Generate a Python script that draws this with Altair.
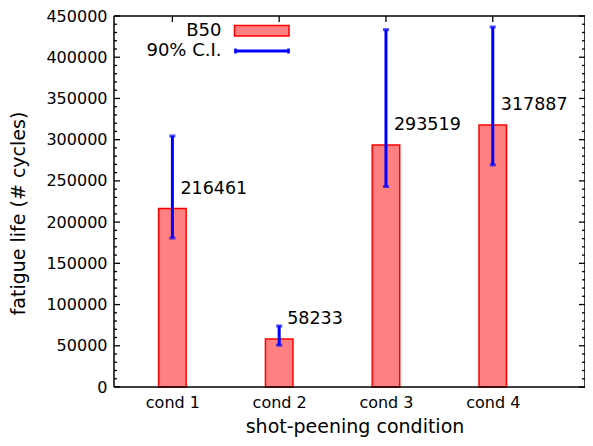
import altair as alt
import pandas as pd

# ---- data ----
conds = ["cond 1", "cond 2", "cond 3", "cond 4"]
cond_pos = [1, 2, 3, 4]
b50 = [216461, 58233, 293519, 317887]
ci_low = [180700, 50800, 243100, 269400]
ci_high = [304500, 74000, 433500, 436700]
y_ticks = list(range(0, 450001, 50000))
y_minor = [v for v in range(0, 450001, 10000) if v % 50000 != 0]
legend_labels = ["B50", "90% C.I."]

W, H = 471, 371
FONT = "DejaVu Sans"
RED_FILL = "#ff8080"
RED = "#ff0000"
BLUE = "#0000ff"

df = pd.DataFrame({"cond": conds, "x": cond_pos, "b50": b50, "lo": ci_low, "hi": ci_high})
df["label"] = df["b50"].astype(str)
major_df = pd.DataFrame({"v": y_ticks})
minor_df = pd.DataFrame({"v": y_minor})
xt_df = pd.DataFrame({"x": cond_pos, "cond": conds})

xscale = alt.Scale(domain=[0.5, 4.817], nice=False, zero=False)
yscale = alt.Scale(domain=[0, 450000], nice=False, zero=True)

base = alt.Chart(df)

bars = base.mark_bar(fill=RED_FILL, stroke=RED, strokeWidth=1.5, size=27.5).encode(
    x=alt.X("x:Q", scale=xscale, title="shot-peening condition",
            axis=alt.Axis(values=cond_pos, labelExpr="'cond ' + datum.value",
                          ticks=False, domain=False, grid=False,
                          labelFont=FONT, labelFontSize=16, labelPadding=7,
                          titleFont=FONT, titleFontSize=19, titleFontWeight="normal",
                          titleX=240.5, titleY=45, titleAlign="center",
                          titleBaseline="alphabetic")),
    y=alt.Y("b50:Q", scale=yscale, title="fatigue life (# cycles)",
            axis=alt.Axis(values=y_ticks, format="d",
                          ticks=False, domain=False, grid=False,
                          labelFont=FONT, labelFontSize=16, labelPadding=7,
                          titleFont=FONT, titleFontSize=19, titleFontWeight="normal",
                          titleX=-95.5, titleY=197, titleBaseline="middle")),
)

err = base.mark_rule(color=BLUE, strokeWidth=3).encode(
    x=alt.X("x:Q", scale=xscale),
    y=alt.Y("lo:Q", scale=yscale),
    y2="hi:Q",
)
cap_lo = base.mark_tick(color=BLUE, orient="horizontal", size=6, thickness=3).encode(
    x=alt.X("x:Q", scale=xscale),
    y=alt.Y("lo:Q", scale=yscale),
)
cap_hi = base.mark_tick(color=BLUE, orient="horizontal", size=6, thickness=3).encode(
    x=alt.X("x:Q", scale=xscale),
    y=alt.Y("hi:Q", scale=yscale),
)
labels = base.mark_text(align="left", baseline="middle", dx=8, dy=-20,
                        font=FONT, fontSize=17.5, color="black").encode(
    x=alt.X("x:Q", scale=xscale),
    y=alt.Y("b50:Q", scale=yscale),
    text="label:N",
)

# inward ticks (gnuplot style, mirrored)
def ytick(data, x0, x1):
    return alt.Chart(data).mark_rule(color="black", strokeWidth=1.3).encode(
        y=alt.Y("v:Q", scale=yscale),
        x=alt.value(x0), x2=alt.value(x1),
    )

tick_layers = [
    ytick(major_df, 0, 6), ytick(major_df, W - 6, W),
    ytick(minor_df, 0, 3), ytick(minor_df, W - 3, W),
    alt.Chart(xt_df).mark_rule(color="black", strokeWidth=1.3).encode(
        x=alt.X("x:Q", scale=xscale),
        y=alt.value(0), y2=alt.value(6),
    ),
]

# frame
one = pd.DataFrame({"k": [0]})
frame = [
    alt.Chart(one).mark_rule(color="black", strokeWidth=1.5).encode(
        x=alt.value(0), x2=alt.value(W), y=alt.value(0)),
    alt.Chart(one).mark_rule(color="black", strokeWidth=1.5).encode(
        x=alt.value(0), x2=alt.value(W), y=alt.value(H)),
    alt.Chart(one).mark_rule(color="black", strokeWidth=1.5).encode(
        x=alt.value(0), y=alt.value(0), y2=alt.value(H)),
    alt.Chart(one).mark_rule(color="black", strokeWidth=1.5).encode(
        x=alt.value(W), y=alt.value(0), y2=alt.value(H)),
]

# legend
leg_b50 = pd.DataFrame({"label": [legend_labels[0]]})
leg_ci = pd.DataFrame({"label": [legend_labels[1]]})
legend = [
    alt.Chart(leg_b50).mark_text(align="right", baseline="middle", font=FONT,
                                 fontSize=18, color="black").encode(
        text="label:N", x=alt.value(107.5), y=alt.value(15)),
    alt.Chart(leg_ci).mark_text(align="right", baseline="middle", font=FONT,
                                fontSize=18, color="black").encode(
        text="label:N", x=alt.value(107.5), y=alt.value(35)),
    alt.Chart(leg_b50).mark_rect(fill=RED_FILL, stroke=RED, strokeWidth=1.5).encode(
        x=alt.value(120.5), x2=alt.value(175), y=alt.value(9.5), y2=alt.value(20)),
    alt.Chart(leg_ci).mark_rule(color=BLUE, strokeWidth=3).encode(
        x=alt.value(120.5), x2=alt.value(175.5), y=alt.value(35)),
    alt.Chart(leg_ci).mark_rule(color=BLUE, strokeWidth=2.5).encode(
        x=alt.value(121.5), y=alt.value(32.5), y2=alt.value(37.5)),
    alt.Chart(leg_ci).mark_rule(color=BLUE, strokeWidth=2.5).encode(
        x=alt.value(174.5), y=alt.value(32.5), y2=alt.value(37.5)),
]

chart = alt.layer(
    bars, *tick_layers, err, cap_lo, cap_hi, labels, *legend, *frame
).properties(
    width=W, height=H,
    autosize=alt.AutoSizeParams(type="none"),
    padding={"left": 106, "top": 8, "right": 0, "bottom": 51},
).configure_view(stroke=None).configure_axis(labelColor="black", titleColor="black")

chart.save("out.html", embed_options={"renderer": "svg", "actions": False})
